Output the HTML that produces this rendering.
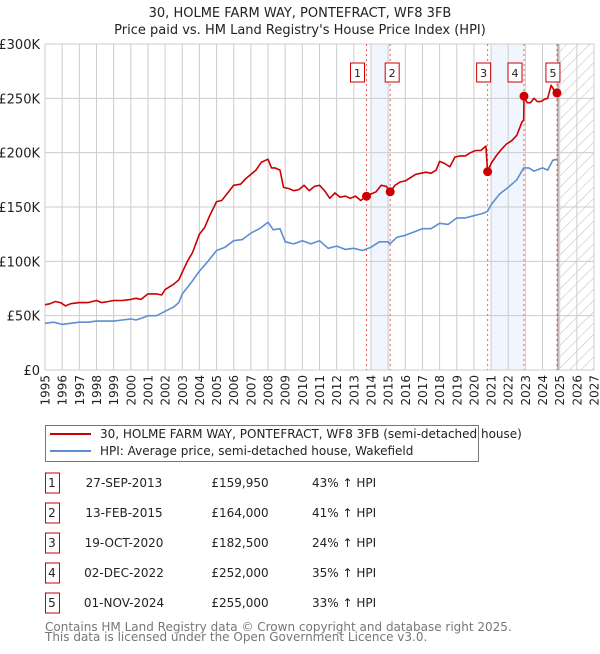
<!DOCTYPE html>
<html><head><meta charset="utf-8">
<style>
body{margin:0;background:#fff;font-family:"DejaVu Sans","Liberation Sans",sans-serif;}
svg text{font-family:"DejaVu Sans","Liberation Sans",sans-serif;}
</style></head>
<body>
<svg id="chart" width="600" height="650" viewBox="0 0 600 650" xmlns="http://www.w3.org/2000/svg">
<defs>
<pattern id="hatch" patternUnits="userSpaceOnUse" width="8" height="8" patternTransform="rotate(45)">
<line x1="0" y1="0" x2="0" y2="8" stroke="#bbb" stroke-width="1"/>
</pattern>
</defs>
<text x="300" y="17" text-anchor="middle" font-size="13" fill="#222">30, HOLME FARM WAY, PONTEFRACT, WF8 3FB</text>
<text x="300" y="34" text-anchor="middle" font-size="13" fill="#222">Price paid vs. HM Land Registry's House Price Index (HPI)</text>
<g id="plot"></g>
<g>
<rect x="45.5" y="425.5" width="433" height="36" fill="#fff" stroke="#777"/>
<line x1="50" y1="434" x2="91" y2="434" stroke="#cc0000" stroke-width="2"/>
<text x="100" y="438" font-size="12" fill="#222">30, HOLME FARM WAY, PONTEFRACT, WF8 3FB (semi-detached house)</text>
<line x1="50" y1="451" x2="91" y2="451" stroke="#5b8fd4" stroke-width="2"/>
<text x="100" y="455" font-size="12" fill="#222">HPI: Average price, semi-detached house, Wakefield</text>
</g>
<g id="table"></g>
<text x="45" y="631" font-size="12" fill="#777">Contains HM Land Registry data © Crown copyright and database right 2025.</text>
<text x="45" y="641" font-size="12" fill="#777">This data is licensed under the Open Government Licence v3.0.</text>
</svg>
<script>
const yearTicks=[1995,1996,1997,1998,1999,2000,2001,2002,2003,2004,2005,2006,2007,2008,2009,2010,2011,2012,2013,2014,2015,2016,2017,2018,2019,2020,2021,2022,2023,2024,2025,2026,2027];
const yTicks=[0,50,100,150,200,250,300];
const yTickLabels=["£0","£50K","£100K","£150K","£200K","£250K","£300K"];
const redDates=[1995,1995.3,1995.6,1995.9,1996.2,1996.5,1997,1997.5,1998,1998.3,1998.7,1999,1999.5,2000,2000.3,2000.6,2001,2001.5,2001.8,2002,2002.5,2002.8,2003,2003.3,2003.6,2004,2004.3,2004.6,2005,2005.3,2005.6,2006,2006.4,2006.7,2007,2007.3,2007.6,2008,2008.2,2008.4,2008.7,2008.9,2009.2,2009.5,2009.8,2010.1,2010.4,2010.7,2011,2011.3,2011.6,2011.9,2012.2,2012.5,2012.8,2013.1,2013.4,2013.74,2014,2014.3,2014.6,2014.9,2015.12,2015.4,2015.7,2016,2016.3,2016.6,2016.9,2017.2,2017.5,2017.8,2018,2018.3,2018.6,2018.9,2019.2,2019.5,2019.8,2020.1,2020.4,2020.7,2020.8,2021,2021.3,2021.6,2021.9,2022.2,2022.5,2022.8,2022.9,2022.92,2023.1,2023.3,2023.5,2023.7,2023.9,2024.1,2024.3,2024.5,2024.65,2024.75,2024.84];
const redValues=[60,61,63,62,59,61,62,62,64,62,63,64,64,65,66,65,70,70,69,74,79,83,90,100,108,125,131,142,155,156,162,170,171,176,180,184,191,194,186,186,184,168,167,165,166,170,165,169,170,165,158,163,159,160,158,160,156,160,162,164,170,169,164,170,173,174,177,180,181,182,181,184,192,190,187,196,197,197,200,202,202,206,182.5,190,197,203,208,211,216,228,230,252,246,246,250,247,247,249,250,262,258,255];
const blueDates=[1995,1995.5,1996,1996.5,1997,1997.5,1998,1998.5,1999,1999.5,2000,2000.3,2000.7,2001,2001.5,2002,2002.5,2002.8,2003,2003.5,2004,2004.5,2005,2005.5,2006,2006.5,2007,2007.5,2008,2008.3,2008.7,2009,2009.5,2010,2010.5,2011,2011.5,2012,2012.5,2013,2013.5,2014,2014.5,2015,2015.1,2015.5,2016,2016.5,2017,2017.5,2018,2018.5,2019,2019.5,2020,2020.5,2020.8,2021,2021.5,2022,2022.5,2022.9,2023.2,2023.5,2024,2024.3,2024.6,2024.84];
const blueValues=[43,44,42,43,44,44,45,45,45,46,47,46,48,50,50,54,58,62,70,80,91,100,110,113,119,120,126,130,136,129,130,118,116,119,116,119,112,114,111,112,110,113,118,118,116,122,124,127,130,130,135,134,140,140,142,144,146,152,162,168,175,186,186,183,186,184,193,194];
const saleDates=[2013.74,2015.12,2020.8,2022.92,2024.84];
const saleValues=[159.95,164,182.5,252,255];
const saleLabels=["1","2","3","4","5"];
const saleDateText=["27-SEP-2013","13-FEB-2015","19-OCT-2020","02-DEC-2022","01-NOV-2024"];
const salePriceText=["£159,950","£164,000","£182,500","£252,000","£255,000"];
const saleHpiText=["43% ↑ HPI","41% ↑ HPI","24% ↑ HPI","35% ↑ HPI","33% ↑ HPI"];

const NS="http://www.w3.org/2000/svg";
const X0=45,X1=594,Y0=370,Y1=44;
const xs=y=>X0+(y-1995)/(2027-1995)*(X1-X0);
const ys=v=>Y0-v/300*(Y0-Y1);
const plot=document.getElementById('plot');
function mk(tag,attrs,parent){const e=document.createElementNS(NS,tag);for(const k in attrs)e.setAttribute(k,attrs[k]);(parent||plot).appendChild(e);return e;}

// shaded spans
let s1=mk('rect',{x:xs(2014),y:Y1,width:xs(saleDates[1])-xs(2014),height:Y0-Y1,fill:'#eef3fc',opacity:0.8});


let s2=mk('rect',{x:xs(2021),y:Y1,width:xs(saleDates[3])-xs(2021),height:Y0-Y1,fill:'#eef3fc',opacity:0.8});


let h=mk('rect',{x:xs(2025),y:Y1,width:X1-xs(2025),height:Y0-Y1,fill:'url(#hatch)'});



// grid
yearTicks.forEach(t=>{
  const l=mk('line',{x1:xs(t),x2:xs(t),y1:Y1,y2:Y0,stroke:'#ccc','stroke-width':1});
  
  
  const tx=mk('text',{x:0,y:0,'font-size':12,fill:'#222','text-anchor':'end',transform:`translate(${xs(t)+4.5},${Y0+5}) rotate(-90)`});
  tx.textContent=t;
  
  
});
yTicks.forEach((t,i)=>{
  const l=mk('line',{x1:X0,x2:X1,y1:ys(t),y2:ys(t),stroke:'#ccc','stroke-width':1});
  
  
  const tx=mk('text',{x:X0-5,y:ys(t)+5,'font-size':13,fill:'#222','text-anchor':'end'});
  tx.textContent=yTickLabels[i];
  
  
});
// now line
let nl=mk('line',{x1:xs(2024.9),x2:xs(2024.9),y1:Y1,y2:Y0,stroke:'#888','stroke-width':1.2});



// sale dashed lines + label boxes
saleDates.forEach((d,i)=>{
  const l=mk('line',{x1:xs(d),x2:xs(d),y1:Y1,y2:Y0,stroke:'#e86060','stroke-width':1,'stroke-dasharray':'2,3'});
  
  
  const bx=xs(d)-(i==0||i==3?9:(i==1?-2:4));
  const r=mk('rect',{x:bx-7,y:63,width:14,height:19,fill:'#fff',stroke:'#cc0000','stroke-width':1});
  
  
  const t=mk('text',{x:bx,y:77,'font-size':11,'text-anchor':'middle',fill:'#222'});
  t.textContent=saleLabels[i];
  
  
});

function path(dates,vals,color,name){
  const d=dates.map((t,i)=>(i?'L':'M')+xs(t).toFixed(1)+','+ys(vals[i]).toFixed(1)).join('');
  const p=mk('path',{d:d,fill:'none',stroke:color,'stroke-width':1.6,'stroke-linejoin':'round'});
  
  
}
path(blueDates,blueValues,'#5b8fd4','hpi-line');
path(redDates,redValues,'#cc0000','property-line');
saleDates.forEach((d,i)=>{
  const c=mk('circle',{cx:xs(d),cy:ys(saleValues[i]),r:4.5,fill:'#cc0000'});
  
  
});

// table
const tb=document.getElementById('table');
saleLabels.forEach((lab,i)=>{
  const cy=483+i*30;
  const r=mk('rect',{x:45.5,y:cy-10,width:14,height:20,fill:'#fff',stroke:'#cc0000','stroke-width':1},tb);
  
  
  const cells=[[52,lab,'middle'],[124,saleDateText[i],'middle'],[240,salePriceText[i],'middle'],[312,saleHpiText[i],'start']];
  cells.forEach(c=>{
    const t=mk('text',{x:c[0],y:cy+4,'font-size':12,fill:'#222','text-anchor':c[2]},tb);
    t.textContent=c[1];
    
    
  });
});
</script>
</body></html>
